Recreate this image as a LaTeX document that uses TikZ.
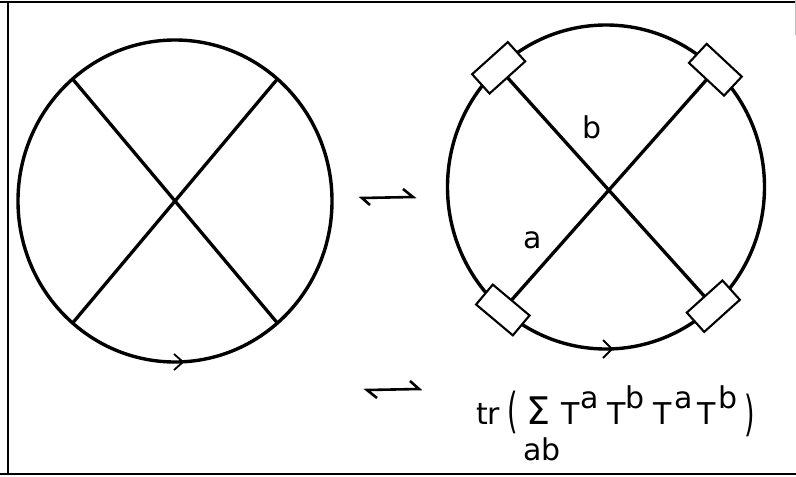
\documentclass[tikz,border=0pt]{standalone}
\usepackage{fontspec}
\usepackage{graphicx}
\setmainfont{DejaVu Sans}
\usetikzlibrary{shapes.geometric}
\begin{document}
\begin{tikzpicture}[x=1pt,y=-1pt,
  ring/.style={draw, ellipse, line width=3.4pt, inner sep=0pt, outer sep=0pt},
  chord/.style={line width=3.3pt},
  tag/.style={draw, fill=white, line width=2.1pt, rectangle, minimum width=48pt, minimum height=26pt, inner sep=0pt},
  chev/.style={line width=1.8pt},
  frame/.style={line width=1.5pt},
  harp/.style={line width=2.6pt},
  lbl/.style={inner sep=0pt, font=\fontsize{30}{30}\selectfont},
  txt/.style={inner sep=0pt, anchor=base west, font=\fontsize{30}{30}\selectfont}]
\useasboundingbox (0,0) rectangle (796,477);
% frame
\coordinate (f1) at (0,2); \coordinate (f2) at (796,2);
\coordinate (f3) at (8,2); \coordinate (f4) at (8,474);
\coordinate (f5) at (0,474); \coordinate (f6) at (796,474);
\draw[frame] (f1) -- (f2);
\draw[frame] (f3) -- (f4);
\draw[frame] (f5) -- (f6);
\coordinate (f7) at (795,0); \coordinate (f8) at (795,35);
\draw[gray!50, line width=1pt] (f7) -- (f8);

% left diagram
\node[ring, minimum width=314pt, minimum height=322pt] (L) at (175,201) {};
\draw[chord] (L.130) -- (L.310);
\draw[chord] (L.50) -- (L.230);
\coordinate (la) at ([shift={(-1,-8)}]L.south);
\coordinate (lb) at ([shift={(8,0)}]L.south);
\coordinate (lc) at ([shift={(-1,8)}]L.south);
\draw[chev] (la) -- (lb) -- (lc);

% harpoons
\coordinate (h1a) at (362,198); \coordinate (h1b) at (413,197);
\coordinate (h1c) at (370,205); \coordinate (h1d) at (403,189);
\draw[harp] (h1c) -- (h1a) -- (h1b) -- (h1d);
\coordinate (h2a) at (367,390); \coordinate (h2b) at (419,389);
\coordinate (h2c) at (377,398); \coordinate (h2d) at (410,381);
\draw[harp] (h2c) -- (h2a) -- (h2b) -- (h2d);

% right diagram
\node[ring, minimum width=317pt, minimum height=324pt] (R) at (606,187) {};
\coordinate (p1) at (R.132);
\coordinate (p2) at (R.47);
\coordinate (p3) at (R.230);
\coordinate (p4) at (R.312);
\draw[chord] (p1) -- (p4);
\draw[chord] (p2) -- (p3);
\node[tag, rotate=42] (b1) at (p1) {};
\node[tag, rotate=-43] (b2) at (p2) {};
\node[tag, rotate=-40] (b3) at (p3) {};
\node[tag, rotate=42] (b4) at (p4) {};
\coordinate (ra) at ([shift={(-3,-9)}]R.south);
\coordinate (rb) at ([shift={(6,0)}]R.south);
\coordinate (rc) at ([shift={(-3,9)}]R.south);
\draw[chev] (ra) -- (rb) -- (rc);
\node[lbl] (lb) at (592,127) {b};
\node[lbl] (la) at (533,240) {a};

% formula
\node[txt] (t1) at (476,424) {tr};
\node[txt] (t3) at (507,427) {\scalebox{0.9}[1.6]{(}};
\node[txt, font=\fontsize{38}{38}\selectfont] (t4) at (526,424) {Σ};
\node[txt] (t5) at (523,460) {ab};
\node[txt] (t6) at (561,424) {T};
\node[txt] (t7) at (580,408) {a};
\node[txt] (t8) at (607,424) {T};
\node[txt] (t9) at (625,408) {b};
\node[txt] (t10) at (653,424) {T};
\node[txt] (t11) at (674,408) {a};
\node[txt] (t12) at (697,424) {T};
\node[txt] (t13) at (718,408) {b};
\node[txt] (t14) at (744,430) {\scalebox{0.9}[1.6]{)}};
\end{tikzpicture}
\end{document}
